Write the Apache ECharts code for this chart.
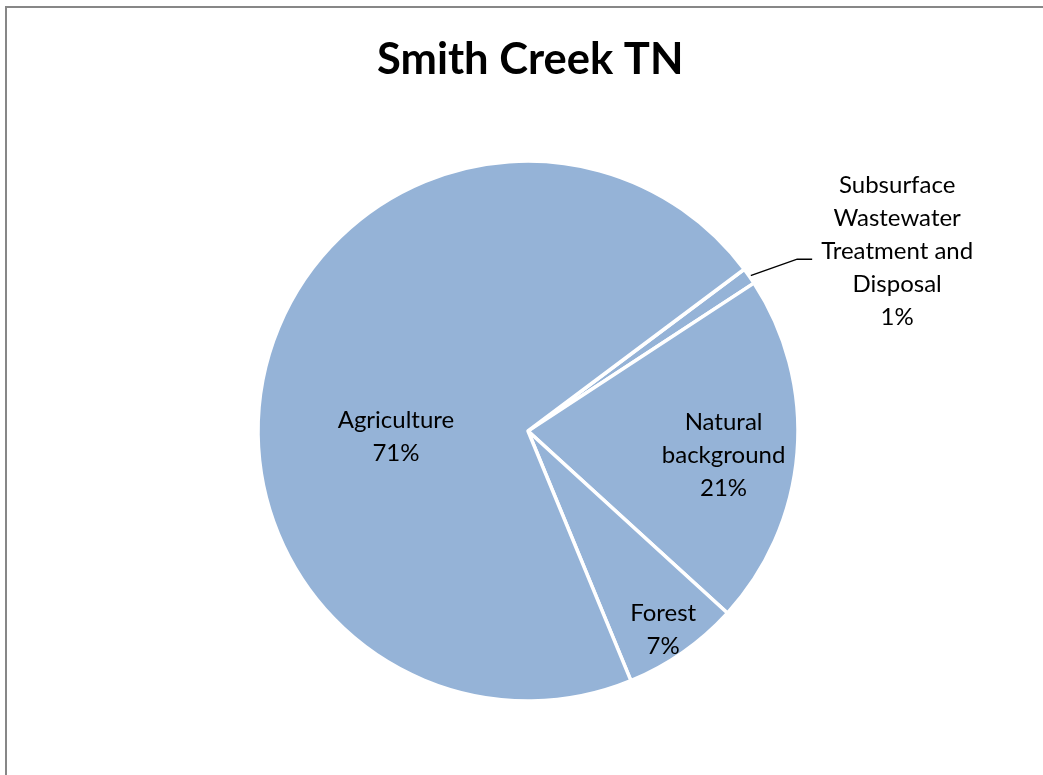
<!DOCTYPE html>
<html>
<head>
<meta charset="utf-8">
<script src="https://cdn.jsdelivr.net/npm/echarts@6/dist/echarts.min.js"></script>
<style>
  html, body { margin: 0; padding: 0; background: #ffffff; }
  #chart { width: 1043px; height: 775px; }
</style>
</head>
<body>
<div id="chart"></div>
<script>
// Source categories of total nitrogen load, listed clockwise from the small septic slice
const categories = [
  'Subsurface Wastewater Treatment and Disposal',
  'Natural background',
  'Forest',
  'Agriculture'
];
// Wrapped text shown on each slice label
const labelTexts = [
  'Subsurface\nWastewater\nTreatment and\nDisposal',
  'Natural\nbackground',
  'Forest',
  'Agriculture'
];
// Share of the load, percent
const shares = [1, 21, 7, 71];

const chartTitle = 'Smith Creek TN';

// Nudges for the labels drawn inside their slices (pixels from the default spot)
const insideShift = {
  'Natural background': [58, 13],
  'Forest': [56, 86],
  'Agriculture': [1, 42]
};

const FONT = 'Lato, "Open Sans", "Noto Sans", sans-serif';

const chart = echarts.init(document.getElementById('chart'), null, { renderer: 'canvas' });

const pieData = categories.map((name, i) => {
  const item = { name: name, value: shares[i] };
  if (i === 0) {
    item.label = { position: 'outside' };
    item.labelLine = { show: true, length: 50, length2: 15 };
  }
  return item;
});

chart.setOption({
  animation: false,
  backgroundColor: '#ffffff',
  title: {
    text: chartTitle,
    left: 377,
    top: 38,
    padding: 0,
    textStyle: {
      fontFamily: FONT,
      fontWeight: 'bold',
      fontSize: 43.5,
      color: '#000000'
    }
  },
  graphic: [{
    type: 'rect',
    silent: true,
    shape: { x: 6, y: 7, width: 1200, height: 900 },
    style: { fill: null, stroke: '#878787', lineWidth: 2 }
  }],
  series: [{
    type: 'pie',
    center: [528, 431],
    radius: 270,
    startAngle: 36.8,
    clockwise: true,
    avoidLabelOverlap: false,
    itemStyle: {
      color: '#95b3d7',
      borderColor: '#ffffff',
      borderWidth: 3.5
    },
    emphasis: { disabled: true },
    label: {
      show: true,
      position: 'inside',
      fontFamily: FONT,
      fontSize: 24,
      lineHeight: 33,
      color: '#000000',
      align: 'center',
      formatter: (p) => labelTexts[p.dataIndex] + '\n' + p.value + '%'
    },
    labelLine: {
      show: false,
      lineStyle: { color: '#000000', width: 1.5 }
    },
    labelLayout: (params) => {
      const name = categories[params.dataIndex];
      if (params.dataIndex === 0 && params.labelLinePoints) {
        const p0 = params.labelLinePoints[0];
        const p1 = [p0[0] + 48, p0[1] - 17];
        const p2 = [p1[0] + 15, p1[1]];
        return {
          x: p2[0] + 9 + params.labelRect.width / 2,
          y: p2[1] - 8,
          align: 'center',
          verticalAlign: 'middle',
          labelLinePoints: [p0, p1, p2]
        };
      }
      const s = insideShift[name];
      return s ? { dx: s[0], dy: s[1] } : {};
    },
    data: pieData
  }]
});
</script>
</body>
</html>
